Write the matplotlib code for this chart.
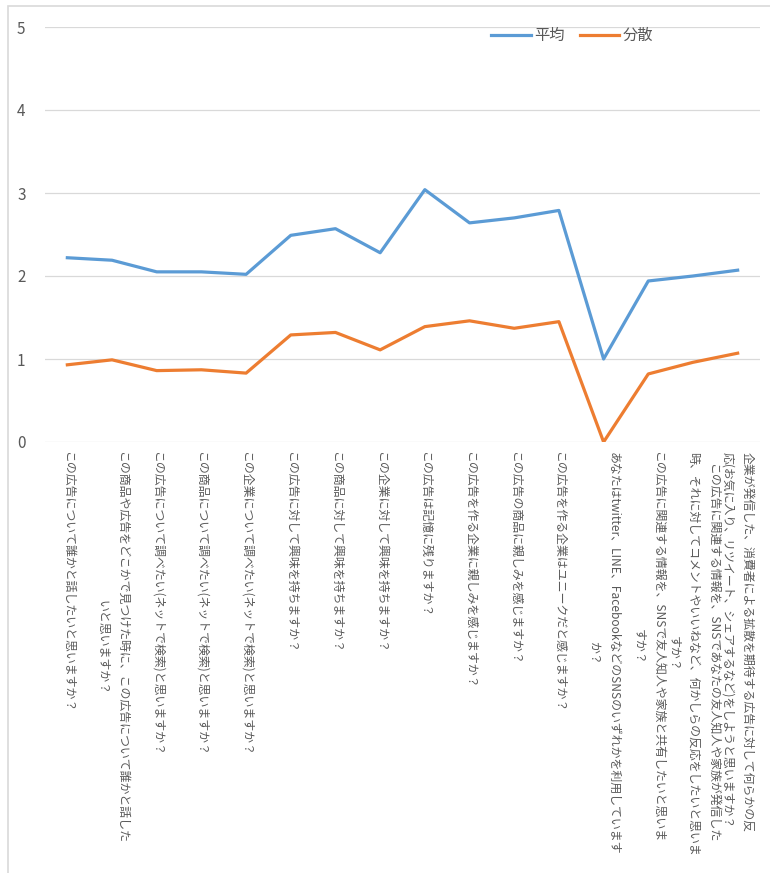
import matplotlib
matplotlib.use("Agg")
import matplotlib.pyplot as plt
from matplotlib.patches import Rectangle
import numpy as np

plt.rcParams['font.family'] = ['Noto Sans CJK JP', 'DejaVu Sans']

# questions (x axis categories), line breaks as in the original chart
questions = [
    "この広告について誰かと話したいと思いますか？",
    "この商品や広告をどこかで見つけた時に、この広告について誰かと話した\nいと思いますか？",
    "この広告について調べたい(ネットで検索)と思いますか？",
    "この商品について調べたい(ネットで検索)と思いますか？",
    "この企業について調べたい(ネットで検索)と思いますか？",
    "この広告に対して興味を持ちますか？",
    "この商品に対して興味を持ちますか？",
    "この企業に対して興味を持ちますか？",
    "この広告は記憶に残りますか？",
    "この広告を作る企業に親しみを感じますか？",
    "この広告の商品に親しみを感じますか？",
    "この広告を作る企業はユニークだと感じますか？",
    "あなたはtwitter、LINE、FacebookなどのSNSのいずれかを利用しています\nか？",
    "この広告に関連する情報を、SNSで友人知人や家族と共有したいと思いま\nすか？",
    "この広告に関連する情報を、SNSであなたの友人知人や家族が発信した\n時、それに対してコメントやいいねなど、何かしらの反応をしたいと思いま\nすか？",
    "企業が発信した、消費者による拡散を期待する広告に対して何らかの反\n応(お気に入り、リツイート、シェアするなど)をしようと思いますか？",
]

mean = [2.22, 2.19, 2.05, 2.05, 2.02, 2.49, 2.57, 2.28, 3.04, 2.64,
        2.70, 2.79, 1.00, 1.94, 2.00, 2.07]
variance = [0.93, 0.99, 0.86, 0.87, 0.83, 1.29, 1.32, 1.11, 1.39, 1.46,
            1.37, 1.45, 0.00, 0.82, 0.96, 1.07]

W, H = 770, 873
fig = plt.figure(figsize=(W / 100, H / 100), dpi=100)
ax = fig.add_axes([45 / W, 1 - 442 / H, 715 / W, 415 / H])

x = np.arange(len(questions))
ax.plot(x, mean, color='#5B9BD5', lw=2.3, label='平均', solid_joinstyle='round')
ax.plot(x, variance, color='#ED7D31', lw=2.3, label='分散', solid_joinstyle='round')

ax.set_xlim(-0.5, len(questions) - 0.5)
ax.set_ylim(0, 5)
ax.set_yticks(range(6))
ax.yaxis.grid(True, color='#D9D9D9', lw=0.9)
ax.set_axisbelow(True)
for s in ax.spines.values():
    s.set_visible(False)

ax.tick_params(axis='y', length=0, pad=14, labelsize=11, labelcolor='#595959')
ax.tick_params(axis='x', length=0, pad=7)
ax.set_xticks(x)
ax.set_xticklabels(questions, rotation=270, va='top', ha='center',
                   fontsize=8.6, color='#595959', linespacing=1.65)
for i, t in enumerate(ax.get_xticklabels()):
    t.set_multialignment('left' if i == len(questions) - 1 else 'center')

ax.legend(loc='upper left', bbox_to_anchor=(437 / 715, 1.0 + 9 / 415), ncol=2,
          frameon=False, fontsize=11, labelcolor='#595959', handlelength=2.6,
          columnspacing=1.0, handletextpad=0.2, borderaxespad=0.2)

# chart area border (cropped on the right and bottom)
fig.patches.append(Rectangle((8 / W, -0.1), 1.2, 1 - 6.5 / H + 0.1,
                             transform=fig.transFigure, fill=False,
                             edgecolor='#D9D9D9', lw=1.2))

fig.savefig('out.png', dpi=100)
